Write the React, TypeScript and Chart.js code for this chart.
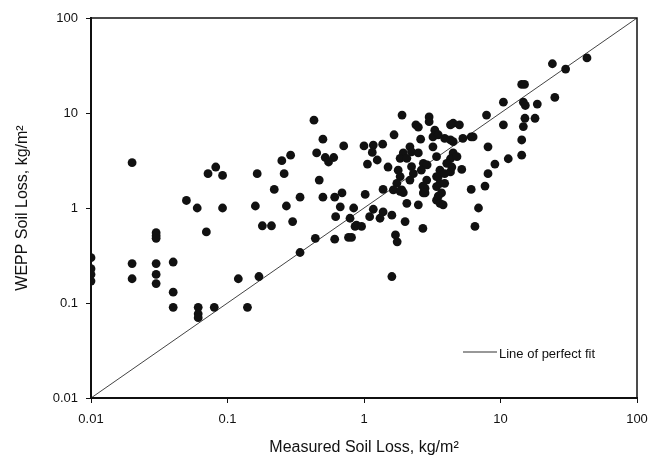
import React, { useEffect, useRef } from 'react';
import { Chart, registerables } from 'chart.js';

Chart.register(...registerables);

const FONT = '"Liberation Sans", Arial, Helvetica, sans-serif';

const xTickValues = [0.01, 0.1, 1, 10, 100];
const yTickValues = [0.01, 0.1, 1, 10, 100];
const tickLabels = ['0.01', '0.1', '1', '10', '100'];

const xTitle = 'Measured Soil Loss, kg/m\u00B2';
const yTitle = 'WEPP Soil Loss, kg/m\u00B2';
const legendLabel = 'Line of perfect fit';

// Measured soil loss (x) and WEPP predicted soil loss (y), kg/m²
const measured = [
  0.01, 0.01, 0.01, 0.01,
  0.02, 0.02, 0.02,
  0.03, 0.03, 0.03, 0.03, 0.03, 0.03,
  0.04, 0.04, 0.04,
  0.05, 0.06, 0.07,
  0.061, 0.061, 0.061, 0.08,
  0.072, 0.082, 0.092, 0.092,
  0.12, 0.14, 0.17,
  0.165, 0.16, 0.18, 0.21, 0.22, 0.26, 0.25, 0.29, 0.27, 0.3, 0.34, 0.34,
  0.43, 0.5, 0.45, 0.52, 0.6, 0.55, 0.47, 0.44,
  0.5, 0.61, 0.69, 0.67, 0.84, 0.62, 0.61, 0.77, 0.71,
  0.79, 0.86, 0.88, 0.96, 0.81,
  1.0, 1.17, 1.37, 1.15, 1.25, 1.06,
  1.5, 1.66, 1.9, 2.4, 2.5, 3.0, 3.0, 3.3, 2.6, 3.2, 3.5,
  2.17, 1.94, 2.23, 2.5, 1.84, 1.78, 1.84, 1.74, 1.89,
  2.06, 2.23, 2.3, 2.17,
  2.72, 2.63, 2.88, 2.8, 2.72,
  3.4, 3.4, 3.4,
  1.38, 1.64, 1.84, 1.94, 1.02,
  2.06, 2.5,
  1.17, 1.38, 1.6, 1.1, 1.31,
  2.0, 2.7, 1.7, 1.75, 1.6,
  3.2,
  4.5, 5.0, 4.3,
  3.9, 4.3, 4.5,
  4.5, 4.3, 4.04, 4.8,
  2.9,
  3.6, 3.5, 3.6, 3.4, 3.7, 3.5, 3.6, 3.8,
  3.9, 3.9, 4.3, 4.4,
  2.7, 2.8,
  5.2, 6.1, 6.3, 5.3, 6.1, 6.9, 6.5,
  7.9, 8.1, 10.5, 9.1, 8.1, 7.7, 11.4, 14.3, 14.3,
  10.5, 14.7, 15.2, 18.6, 15.1, 14.7, 17.9,
  14.3, 15, 24, 30, 43, 25,
];

const wepp = [
  0.3, 0.23, 0.2, 0.17,
  3.0, 0.26, 0.18,
  0.55, 0.51, 0.48, 0.26, 0.2, 0.16,
  0.27, 0.13, 0.09,
  1.2, 1.0, 0.56,
  0.09, 0.077, 0.07, 0.09,
  2.3, 2.7, 2.2, 1.0,
  0.18, 0.09, 0.19,
  2.3, 1.05, 0.65, 0.65, 1.57, 2.3, 3.15, 3.6, 1.05, 0.72, 1.3, 0.34,
  8.4, 5.3, 3.8, 3.4, 3.4, 3.05, 1.97, 0.48,
  1.3, 1.3, 1.44, 1.03, 1.0, 0.81, 0.47, 0.49, 4.5,
  0.78, 0.64, 0.66, 0.64, 0.49,
  4.5, 4.6, 4.7, 3.85, 3.2, 2.9,
  2.7, 5.9, 9.5, 7.5, 7.1, 9.1, 8.1, 6.6, 5.3, 5.6, 5.9,
  4.4, 3.8, 3.9, 3.8, 3.33, 2.5, 2.14, 1.82, 1.55,
  3.33, 2.72, 2.3, 1.97,
  2.95, 2.5, 1.97, 1.61, 1.44,
  3.47, 2.14, 1.21,
  1.57, 1.55, 1.5, 1.45, 1.39,
  1.12, 1.08,
  0.97, 0.91, 0.84, 0.81, 0.78,
  0.72, 0.61, 0.52, 0.44, 0.19,
  4.4,
  7.8, 7.5, 7.5,
  5.4, 5.2, 5.0,
  3.8, 3.3, 2.95, 3.47,
  2.85,
  2.5, 2.14, 1.82, 1.68, 1.44, 1.33, 1.12, 1.08,
  2.3, 1.82, 2.4, 2.7,
  1.7, 1.44,
  2.55, 5.6, 5.6, 5.4, 1.57, 1.0, 0.64,
  9.5, 4.4, 7.5, 2.9, 2.3, 1.7, 3.3, 5.2, 3.6,
  13, 13, 12, 12.4, 8.8, 7.2, 8.8,
  20, 20, 33, 29, 38, 14.6,
];

const fitX = [0.01, 100];
const fitY = [0.01, 100];

const framePlugin = {
  id: 'frame',
  afterDatasetsDraw(chart: any) {
    const { ctx, chartArea } = chart;
    ctx.save();
    ctx.strokeStyle = '#111';
    ctx.lineWidth = 1.5;
    ctx.strokeRect(chartArea.left, chartArea.top, chartArea.right - chartArea.left, chartArea.bottom - chartArea.top);
    // legend (inside plot area)
    const lx0 = chartArea.left + 372;
    const lx1 = chartArea.left + 406;
    const ly = chartArea.top + 334;
    ctx.strokeStyle = '#333';
    ctx.lineWidth = 1.2;
    ctx.beginPath();
    ctx.moveTo(lx0, ly);
    ctx.lineTo(lx1, ly);
    ctx.stroke();
    ctx.fillStyle = '#111';
    ctx.font = '13px ' + FONT;
    ctx.textAlign = 'left';
    ctx.textBaseline = 'middle';
    ctx.fillText(legendLabel, lx1 + 2, ly + 2);
    ctx.restore();
  },
};

export default function App() {
  const ref = useRef<HTMLCanvasElement | null>(null);

  useEffect(() => {
    if (!ref.current) return;
    const points = measured.map((x, i) => ({ x, y: wepp[i] }));
    const fit = fitX.map((x, i) => ({ x, y: fitY[i] }));
    const tickFont = { size: 13, family: FONT };
    const titleFont = { size: 16, family: FONT };
    const chart = new Chart(ref.current, {
      type: 'scatter',
      data: {
        datasets: [
          {
            type: 'scatter',
            label: 'data',
            data: points,
            pointRadius: 4.4,
            pointBackgroundColor: '#111',
            pointBorderWidth: 0,
            borderWidth: 0,
            order: 1,
          } as any,
          {
            type: 'line',
            label: legendLabel,
            data: fit,
            borderColor: '#444',
            borderWidth: 1,
            pointRadius: 0,
            fill: false,
            order: 2,
          } as any,
        ],
      },
      options: {
        animation: false,
        responsive: false,
        layout: { padding: { top: 18, right: 11, left: 0, bottom: 0 } },
        plugins: { legend: { display: false }, tooltip: { enabled: false } },
        scales: {
          x: {
            type: 'logarithmic',
            position: 'bottom',
            min: 0.01,
            max: 100,
            afterBuildTicks: (s: any) => {
              s.ticks = xTickValues.map((v) => ({ value: v, major: true }));
            },
            afterFit: (s: any) => {
              s.height = 59;
              s.paddingLeft = 0;
              s.paddingRight = 0;
            },
            ticks: {
              autoSkip: false,
              maxRotation: 0,
              padding: 9,
              color: '#111',
              font: tickFont,
              callback: (v: any) => tickLabels[xTickValues.indexOf(Number(v))] ?? '',
            },
            grid: { display: true, drawOnChartArea: false, drawTicks: true, tickLength: 5, color: '#111', lineWidth: 1 },
            border: { display: true, color: '#111', width: 2 },
            title: { display: true, text: xTitle, color: '#111', font: titleFont, padding: { top: 0, bottom: 0 } },
          },
          y: {
            type: 'logarithmic',
            position: 'left',
            min: 0.01,
            max: 100,
            afterBuildTicks: (s: any) => {
              s.ticks = yTickValues.map((v) => ({ value: v, major: true }));
            },
            afterFit: (s: any) => {
              s.width = 91;
              s.paddingTop = 0;
              s.paddingBottom = 0;
            },
            ticks: {
              autoSkip: false,
              padding: 8,
              color: '#111',
              font: tickFont,
              callback: (v: any) => tickLabels[yTickValues.indexOf(Number(v))] ?? '',
            },
            grid: { display: true, drawOnChartArea: false, drawTicks: true, tickLength: 5, color: '#111', lineWidth: 1 },
            border: { display: true, color: '#111', width: 2 },
            title: { display: true, text: yTitle, color: '#111', font: titleFont, padding: { top: 13, bottom: 0 } },
          },
        },
      } as any,
      plugins: [framePlugin],
    });
    return () => chart.destroy();
  }, []);

  return (
    <div style={{ position: 'fixed', left: 0, top: 0, width: 648, height: 457, background: '#fff' }}>
      <canvas ref={ref} width={648} height={457} style={{ display: 'block' }} />
    </div>
  );
}
